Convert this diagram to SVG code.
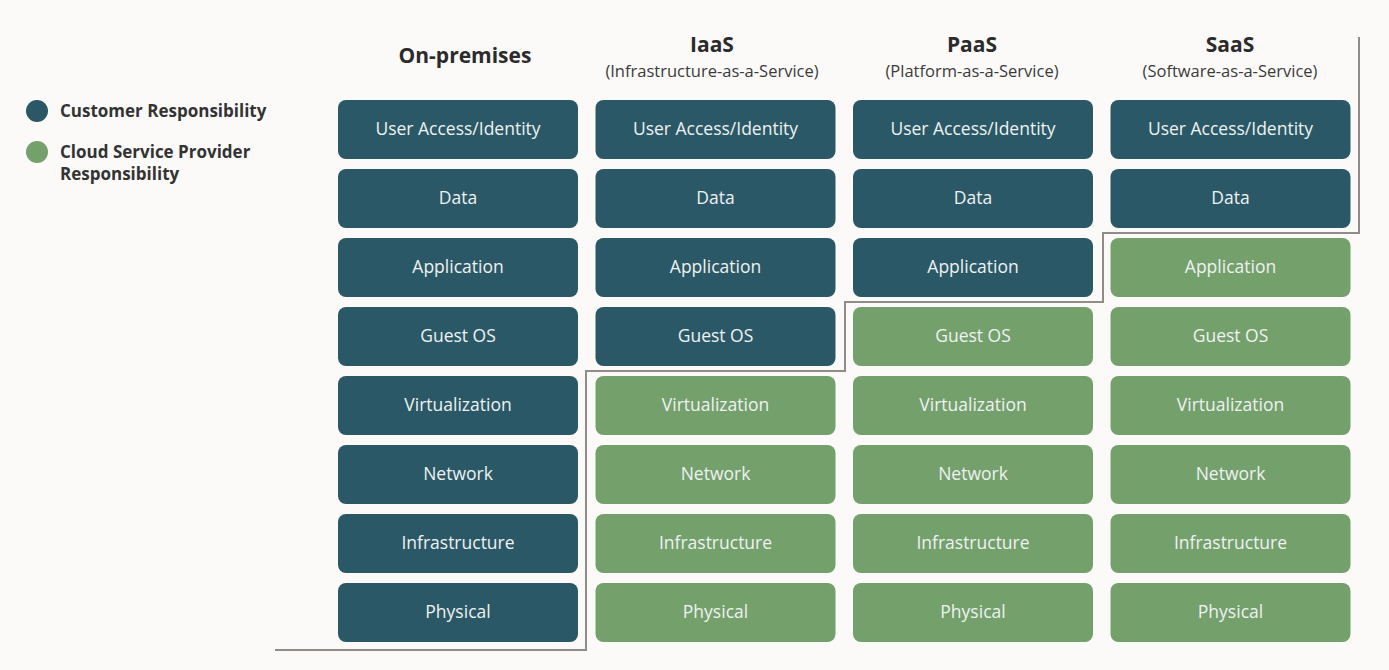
<svg xmlns="http://www.w3.org/2000/svg" width="1389" height="670" viewBox="0 0 1389 670">
<style>
.bg{fill:#fbfaf9}
.c{fill:#2a5866}
.p{fill:#74a06c}
.t{font-family:"Open Sans","Noto Sans",sans-serif;font-size:17.5px;fill:#eef2f1;text-anchor:middle}
.h{font-family:"Open Sans","Noto Sans",sans-serif;font-size:21px;font-weight:bold;fill:#2b2b2b;text-anchor:middle}
.s{font-family:"Open Sans","Noto Sans",sans-serif;font-size:16.5px;fill:#3a3a3a;text-anchor:middle}
.l{font-family:"Open Sans","Noto Sans",sans-serif;font-size:17px;font-weight:bold;fill:#333}
.line{fill:none;stroke:#918c87;stroke-width:2}
</style>
<defs>
<rect id="box" width="240" height="59" rx="8"/>
</defs>
<rect class="bg" width="1389" height="670"/>
<g id="legend">
<circle class="c" cx="37" cy="111" r="11"/>
<text class="l" x="60" y="117">Customer Responsibility</text>
<circle class="p" cx="37" cy="152" r="11"/>
<text class="l" x="60" y="158">Cloud Service Provider</text>
<text class="l" x="60" y="180">Responsibility</text>
</g>
<g id="headers">
<text class="h" x="465" y="63">On-premises</text>
<text class="h" x="712" y="52">IaaS</text>
<text class="s" x="712" y="77">(Infrastructure-as-a-Service)</text>
<text class="h" x="972" y="52">PaaS</text>
<text class="s" x="972" y="77">(Platform-as-a-Service)</text>
<text class="h" x="1230" y="52">SaaS</text>
<text class="s" x="1230" y="77">(Software-as-a-Service)</text>
</g>
<g id="onprem">
<use href="#box" class="c" x="338" y="100"/><text class="t" x="458" y="135">User Access/Identity</text>
<use href="#box" class="c" x="338" y="169"/><text class="t" x="458" y="204">Data</text>
<use href="#box" class="c" x="338" y="238"/><text class="t" x="458" y="273">Application</text>
<use href="#box" class="c" x="338" y="307"/><text class="t" x="458" y="342">Guest OS</text>
<use href="#box" class="c" x="338" y="376"/><text class="t" x="458" y="411">Virtualization</text>
<use href="#box" class="c" x="338" y="445"/><text class="t" x="458" y="480">Network</text>
<use href="#box" class="c" x="338" y="514"/><text class="t" x="458" y="549">Infrastructure</text>
<use href="#box" class="c" x="338" y="583"/><text class="t" x="458" y="618">Physical</text>
</g>
<g id="iaas">
<use href="#box" class="c" x="595.5" y="100"/><text class="t" x="715.5" y="135">User Access/Identity</text>
<use href="#box" class="c" x="595.5" y="169"/><text class="t" x="715.5" y="204">Data</text>
<use href="#box" class="c" x="595.5" y="238"/><text class="t" x="715.5" y="273">Application</text>
<use href="#box" class="c" x="595.5" y="307"/><text class="t" x="715.5" y="342">Guest OS</text>
<use href="#box" class="p" x="595.5" y="376"/><text class="t" x="715.5" y="411">Virtualization</text>
<use href="#box" class="p" x="595.5" y="445"/><text class="t" x="715.5" y="480">Network</text>
<use href="#box" class="p" x="595.5" y="514"/><text class="t" x="715.5" y="549">Infrastructure</text>
<use href="#box" class="p" x="595.5" y="583"/><text class="t" x="715.5" y="618">Physical</text>
</g>
<g id="paas">
<use href="#box" class="c" x="853" y="100"/><text class="t" x="973" y="135">User Access/Identity</text>
<use href="#box" class="c" x="853" y="169"/><text class="t" x="973" y="204">Data</text>
<use href="#box" class="c" x="853" y="238"/><text class="t" x="973" y="273">Application</text>
<use href="#box" class="p" x="853" y="307"/><text class="t" x="973" y="342">Guest OS</text>
<use href="#box" class="p" x="853" y="376"/><text class="t" x="973" y="411">Virtualization</text>
<use href="#box" class="p" x="853" y="445"/><text class="t" x="973" y="480">Network</text>
<use href="#box" class="p" x="853" y="514"/><text class="t" x="973" y="549">Infrastructure</text>
<use href="#box" class="p" x="853" y="583"/><text class="t" x="973" y="618">Physical</text>
</g>
<g id="saas">
<use href="#box" class="c" x="1110.5" y="100"/><text class="t" x="1230.5" y="135">User Access/Identity</text>
<use href="#box" class="c" x="1110.5" y="169"/><text class="t" x="1230.5" y="204">Data</text>
<use href="#box" class="p" x="1110.5" y="238"/><text class="t" x="1230.5" y="273">Application</text>
<use href="#box" class="p" x="1110.5" y="307"/><text class="t" x="1230.5" y="342">Guest OS</text>
<use href="#box" class="p" x="1110.5" y="376"/><text class="t" x="1230.5" y="411">Virtualization</text>
<use href="#box" class="p" x="1110.5" y="445"/><text class="t" x="1230.5" y="480">Network</text>
<use href="#box" class="p" x="1110.5" y="514"/><text class="t" x="1230.5" y="549">Infrastructure</text>
<use href="#box" class="p" x="1110.5" y="583"/><text class="t" x="1230.5" y="618">Physical</text>
</g>
<g id="connectors">
<path class="line" d="M275 650 H586 V371 H845 V302 H1103 V233 H1359 V37"/>
</g>
</svg>
